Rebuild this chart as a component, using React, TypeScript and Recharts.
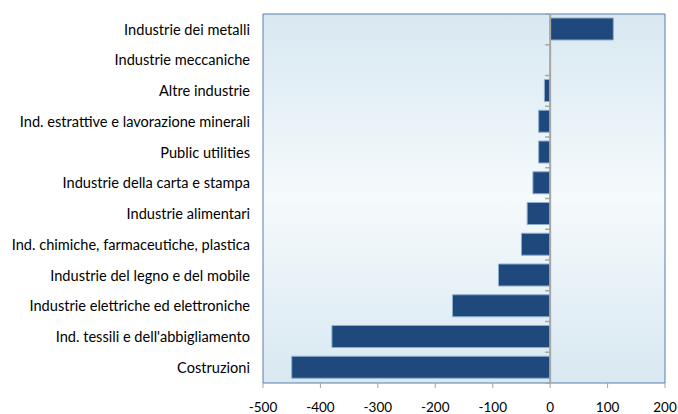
import { BarChart, Bar, XAxis, YAxis, ReferenceArea, ReferenceLine } from "recharts";

// settori, dall'alto verso il basso
const sectors = [
  "Industrie dei metalli",
  "Industrie meccaniche",
  "Altre industrie",
  "Ind. estrattive e lavorazione minerali",
  "Public utilities",
  "Industrie della carta e stampa",
  "Industrie alimentari",
  "Ind. chimiche, farmaceutiche, plastica",
  "Industrie del legno e del mobile",
  "Industrie elettriche ed elettroniche",
  "Ind. tessili e dell'abbigliamento",
  "Costruzioni",
];
const values = [110, 0, -10, -20, -20, -30, -40, -50, -90, -170, -380, -450];
const xTicks = [-500, -400, -300, -200, -100, 0, 100, 200];

const data = sectors.map((name, i) => ({ name, value: values[i] }));

const FONT = "Lato, 'Open Sans', sans-serif";

// zero line with small ticks at category boundaries (Excel style)
function ZeroAxis(props: any) {
  const { x1, y1, y2 } = props;
  const n = sectors.length;
  const step = (y2 - y1) / n;
  const marks = [];
  for (let i = 0; i <= n; i++) {
    const y = y1 + i * step;
    marks.push(<line key={i} x1={x1 - 5} x2={x1} y1={y} y2={y} stroke="#a6a6a6" strokeWidth={1.5} />);
  }
  return (
    <g>
      <line x1={x1} x2={x1} y1={y1} y2={y2} stroke="#a6a6a6" strokeWidth={2} />
      {marks}
    </g>
  );
}

export default function App() {
  return (
    <div
      style={{
        position: "absolute",
        left: 0,
        top: 0,
        width: 678,
        height: 414,
        background: "#fff",
        overflow: "hidden",
      }}
    >
      <BarChart
        width={678}
        height={414}
        data={data}
        layout="vertical"
        margin={{ top: 14, right: 13, bottom: 0, left: 0 }}
      >
        <defs>
          <linearGradient id="plotBg" x1="0" y1="0" x2="0" y2="1">
            <stop offset="0%" stopColor="#d8e8f1" />
            <stop offset="50%" stopColor="#f5fafc" />
            <stop offset="100%" stopColor="#d8e8f1" />
          </linearGradient>
        </defs>
        <XAxis
          type="number"
          domain={[-500, 200]}
          ticks={xTicks}
          allowDataOverflow
          axisLine={false}
          tickLine={{ stroke: "#a6a6a6" }}
          tickSize={5}
          tickMargin={14}
          height={31}
          tick={{ fill: "#000", fontSize: 13.5, fontFamily: FONT }}
        />
        <YAxis
          type="category"
          dataKey="name"
          width={263}
          axisLine={false}
          tickLine={false}
          tickSize={0}
          tickMargin={13}
          interval={0}
          tick={{ fill: "#000", fontSize: 14.6, fontFamily: FONT }}
        />
        <ReferenceArea
          x1={-500}
          x2={200}
          fill="url(#plotBg)"
          fillOpacity={1}
          stroke="#5a7dab"
          strokeWidth={1}
          ifOverflow="visible"
        />
        <Bar
          dataKey="value"
          fill="#1f497d"
          stroke="#8eaed0"
          strokeWidth={1}
          barSize={22}
          isAnimationActive={false}
        />
        <ReferenceLine x={0} shape={ZeroAxis} ifOverflow="visible" />
      </BarChart>
    </div>
  );
}
